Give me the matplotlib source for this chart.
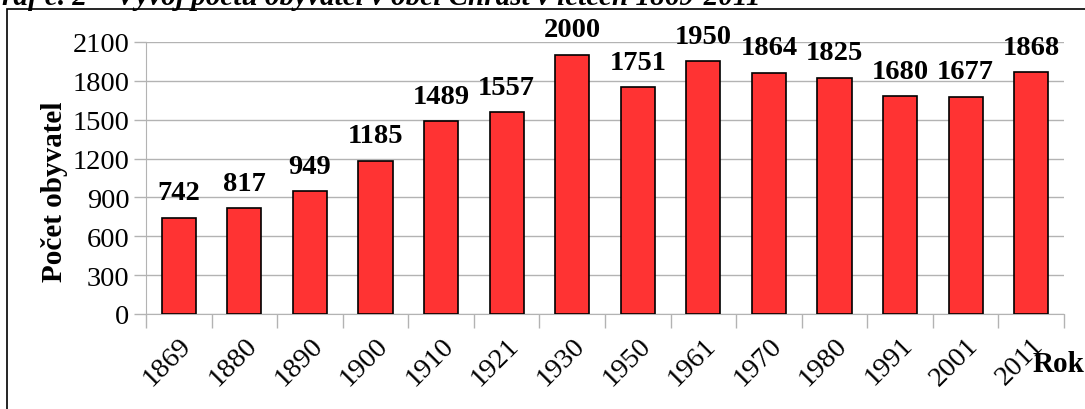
import numpy as np
import matplotlib.pyplot as plt
from matplotlib.patches import Rectangle

# data
years = ['1869', '1880', '1890', '1900', '1910', '1921', '1930',
         '1950', '1961', '1970', '1980', '1991', '2001', '2011']
population = [742, 817, 949, 1185, 1489, 1557, 2000,
              1751, 1950, 1864, 1825, 1680, 1677, 1868]
yticks = [0, 300, 600, 900, 1200, 1500, 1800, 2100]

plt.rcParams['font.family'] = ['Liberation Serif', 'DejaVu Serif']

W, H = 1085, 410
fig = plt.figure(figsize=(W / 100, H / 100), dpi=100)

# outer frame
fig.patches.append(Rectangle((7 / W, -0.05), 1.2, 1 - 10 / H + 0.05,
                             transform=fig.transFigure, fill=False,
                             edgecolor='black', linewidth=1.2))

# cut-off title at the top
fig.text(-19 / W, 1 - 5 / H,
         'Graf č. 2 – Vývoj počtu obyvatel v obci Chrást v letech 1869-2011',
         fontsize=21, fontweight='bold', fontstyle='italic',
         ha='left', va='baseline')

ax = fig.add_axes([146 / W, 1 - 315 / H, (1064 - 146) / W, (315 - 43) / H])
x = np.arange(len(years))
ax.bar(x, population, width=0.52, color='#ff3333', edgecolor='black',
       linewidth=1.2, zorder=3)

for xi, v in zip(x, population):
    ax.annotate(str(v), (xi, v), xytext=(0, 9), textcoords='offset points',
                ha='center', va='bottom', fontsize=20.5, fontweight='bold')

ax.set_xlim(-0.5, len(years) - 0.5)
ax.set_ylim(0, 2100)
ax.set_yticks(yticks)
ax.set_yticklabels([str(t) for t in yticks], fontsize=20.5)
ax.yaxis.grid(True, color='#b3b3b3', linewidth=1, zorder=0)

ax.set_xticks(x)
ax.set_xticklabels(years, rotation=45, ha='right', va='top',
                   rotation_mode='anchor', fontsize=20.5)
ax.tick_params(axis='x', which='major', length=0, pad=13)
ax.set_xticks(np.arange(-0.5, len(years)), minor=True)
ax.tick_params(axis='x', which='minor', length=10, color='#b3b3b3', width=1)
ax.tick_params(axis='y', length=9, color='#b3b3b3', width=1, pad=3)

for side in ['top', 'right']:
    ax.spines[side].set_visible(False)
ax.spines['left'].set_color('#b3b3b3')
ax.spines['bottom'].set_color('#b3b3b3')

ax.set_ylabel('Počet obyvatel', fontsize=21, fontweight='bold')
ax.yaxis.set_label_coords(-0.085, 0.452)
fig.text(1033 / W, 1 - 365 / H, 'Rok', fontsize=21, fontweight='bold',
         ha='left', va='center')

fig.savefig('out.png', dpi=100)
